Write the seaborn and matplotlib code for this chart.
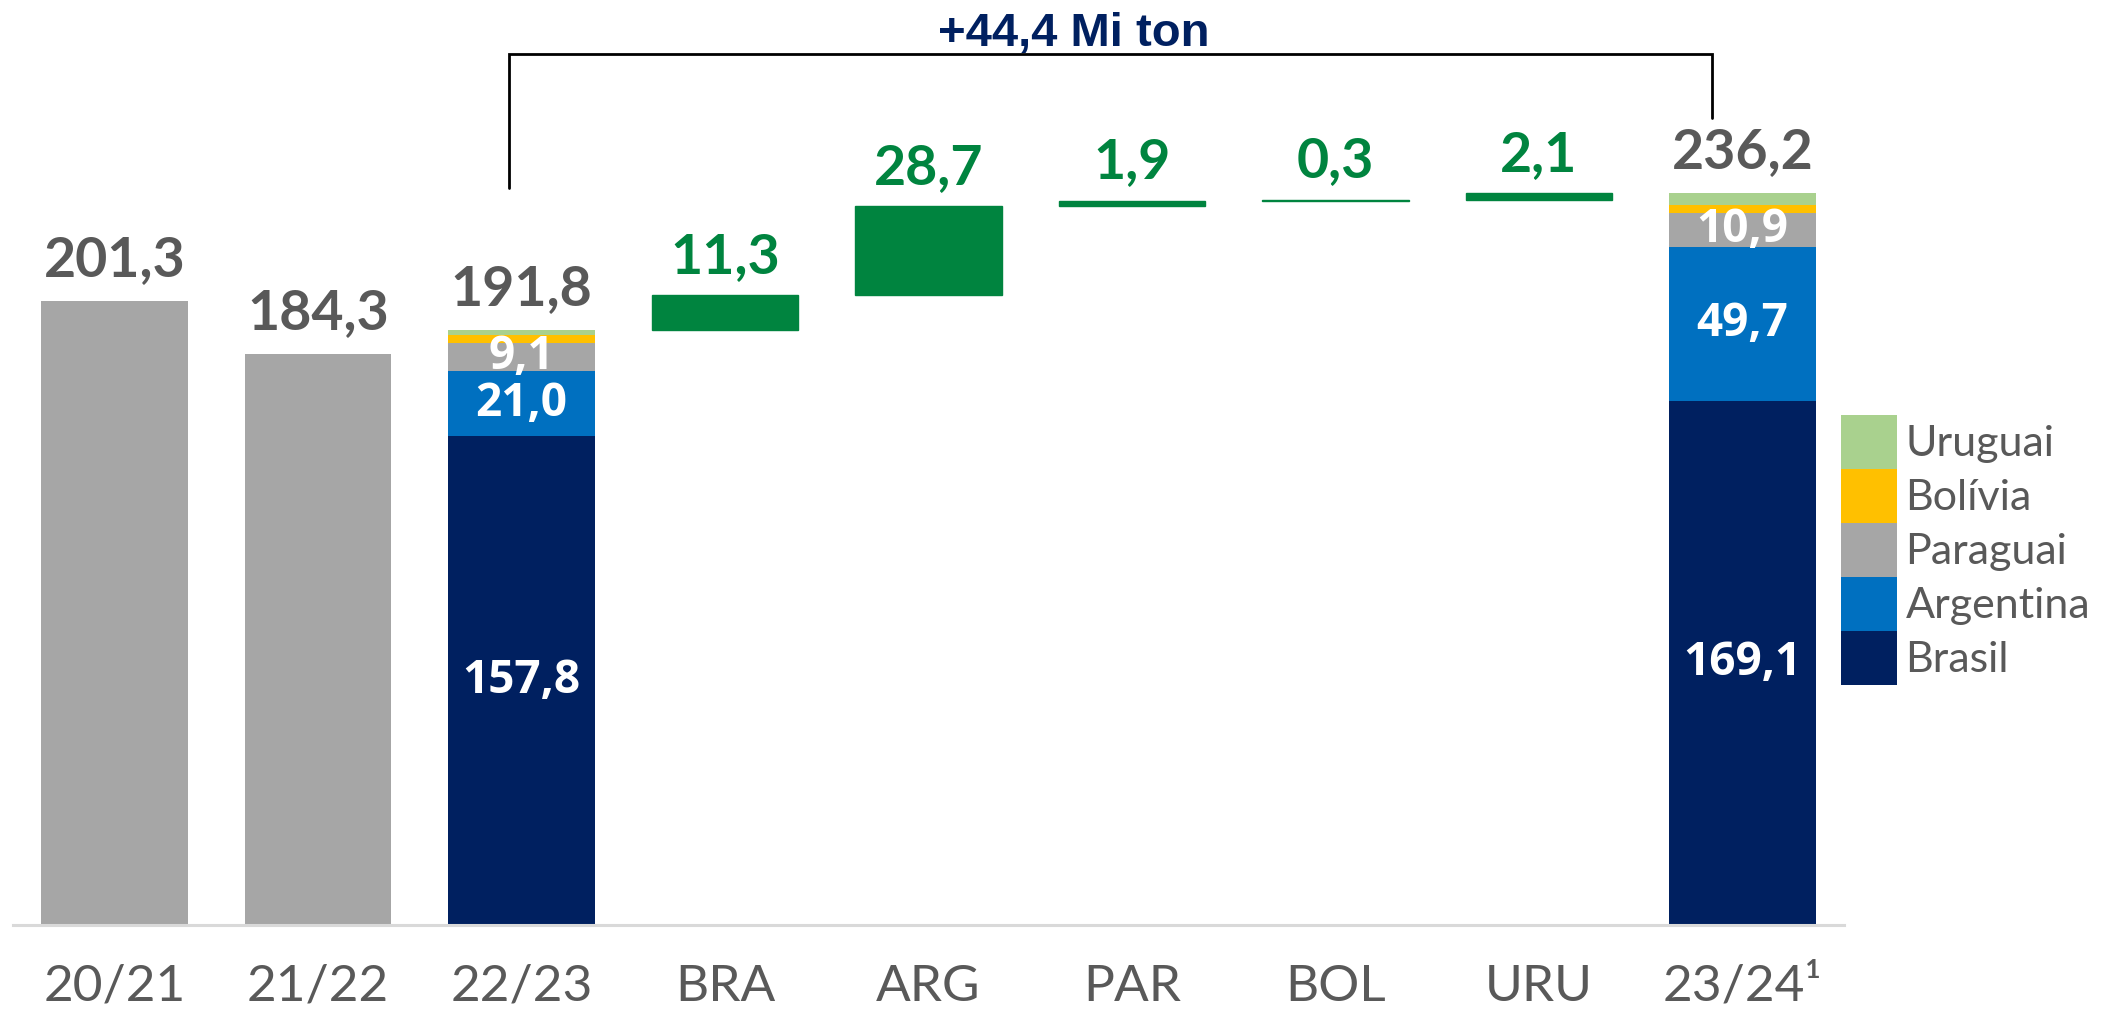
import numpy as np
import pandas as pd
import seaborn as sns
import matplotlib.pyplot as plt
from matplotlib.patches import Patch

# Dados (mi ton)
categories = ['20/21', '21/22', '22/23', 'BRA', 'ARG', 'PAR', 'BOL', 'URU', '23/24¹']
countries = ['Brasil', 'Argentina', 'Paraguai', 'Bolívia', 'Uruguai']
country_colors = ['#002060', '#0070C0', '#A6A6A6', '#FFC000', '#A9D18E']

past_seasons = ['20/21', '21/22']
past_totals = [201.3, 184.3]
stack_2223 = [157.8, 21.0, 9.1, 2.3, 1.6]
stack_2324 = [169.1, 49.7, 10.9, 2.6, 3.9]
delta_cats = ['BRA', 'ARG', 'PAR', 'BOL', 'URU']
deltas = [11.3, 28.7, 1.9, 0.3, 2.1]
variation_text = '+44,4 Mi ton'

GRAY = '#A6A6A6'
GREEN = '#00843F'
TXT = '#595959'
NAVY = '#002060'


def fmt(v):
    return f'{v:.1f}'.replace('.', ',')


rows = []
for season, stack in [('22/23', stack_2223), ('23/24¹', stack_2324)]:
    for c, v in zip(countries, stack):
        rows.append({'safra': season, 'pais': c, 'valor': v})
df = pd.DataFrame(rows)
df['acum'] = df.groupby('safra')['valor'].cumsum()
df['base'] = df['acum'] - df['valor']

sns.set_theme(style='white')
plt.rcParams['font.family'] = ['Lato', 'DejaVu Sans']

fig = plt.figure(figsize=(21.23, 10.22), dpi=100)
ax = fig.add_axes([13 / 2123, 1 - 925 / 1022, 1831 / 2123, 925 / 1022])

BW = 0.72
# safras anteriores
sns.barplot(x=past_seasons, y=past_totals, order=categories, color=GRAY,
            width=BW, saturation=1, errorbar=None, linewidth=0, ax=ax)

# colunas empilhadas (cumulativo, do topo para a base)
for c, col in reversed(list(zip(countries, country_colors))):
    sub = df[df['pais'] == c]
    sns.barplot(data=sub, x='safra', y='acum', order=categories, color=col,
                width=BW, saturation=1, errorbar=None, linewidth=0, ax=ax)

# variacoes (cascata)
start = sum(stack_2223)
bottoms = start + np.concatenate([[0], np.cumsum(deltas)[:-1]])
xs = [categories.index(c) for c in delta_cats]
ax.bar(xs, deltas, bottom=bottoms, width=BW, color=GREEN,
       edgecolor=GREEN, linewidth=1)

# rotulos dos totais
tot_x = [0, 1, 2, 8]
tot_h = past_totals + [sum(stack_2223), sum(stack_2324)]
for x, h in zip(tot_x, tot_h):
    ax.annotate(fmt(h), (x, h), xytext=(0, 18), textcoords='offset points',
                ha='center', va='baseline', fontsize=40, fontweight='bold',
                color=TXT)

for x, b, d in zip(xs, bottoms, deltas):
    ax.annotate(fmt(d), (x, b + d), xytext=(0, 16), textcoords='offset points',
                ha='center', va='baseline', fontsize=40, fontweight='bold',
                color=GREEN)

# rotulos internos
for _, r in df[df['pais'].isin(['Brasil', 'Argentina', 'Paraguai'])].iterrows():
    x = categories.index(r['safra'])
    ax.text(x, r['base'] + r['valor'] / 2, fmt(r['valor']), ha='center',
            va='center', fontsize=33, fontweight='bold', color='white',
            family=['Open Sans', 'DejaVu Sans'])

# chave de variacao
x_left = 2 - 0.06
x_right = 8 - 0.15
y_top = 281
ax.plot([x_left, x_left, x_right, x_right],
        [sum(stack_2223) + 46, y_top, y_top, sum(stack_2324) + 24],
        color='black', lw=2, solid_joinstyle='miter', clip_on=False)
ax.text((x_left + x_right) / 2 - 0.18, y_top + 2.6, variation_text,
        ha='center', va='baseline', fontsize=34, fontweight='bold',
        color=NAVY, family=['Liberation Sans', 'DejaVu Sans'])

# eixos
ax.set_ylim(0, 925 / 3.1)
ax.set_xlim(-0.5, 8.5)
ax.set_xlabel('')
ax.set_ylabel('')
ax.set_yticks([])
ax.set_xticks(range(len(categories)))
ax.set_xticklabels(categories, fontsize=37, color=TXT)
ax.tick_params(axis='x', length=0, pad=28)
for s in ['left', 'right', 'top']:
    ax.spines[s].set_visible(False)
ax.spines['bottom'].set_color('#D9D9D9')
ax.spines['bottom'].set_linewidth(2.2)

# legenda
handles = [Patch(facecolor=col, edgecolor='none', label=c)
           for c, col in zip(countries, country_colors)][::-1]
fig.legend(handles=handles, loc='upper left', bbox_to_anchor=(1841 / 2123, 1 - 415 / 1022),
           frameon=False, fontsize=31, labelcolor=TXT, handlelength=1.3,
           handleheight=1.555, handletextpad=0.2, labelspacing=0, borderpad=0,
           borderaxespad=0)

fig.savefig('out.png', dpi=100)
